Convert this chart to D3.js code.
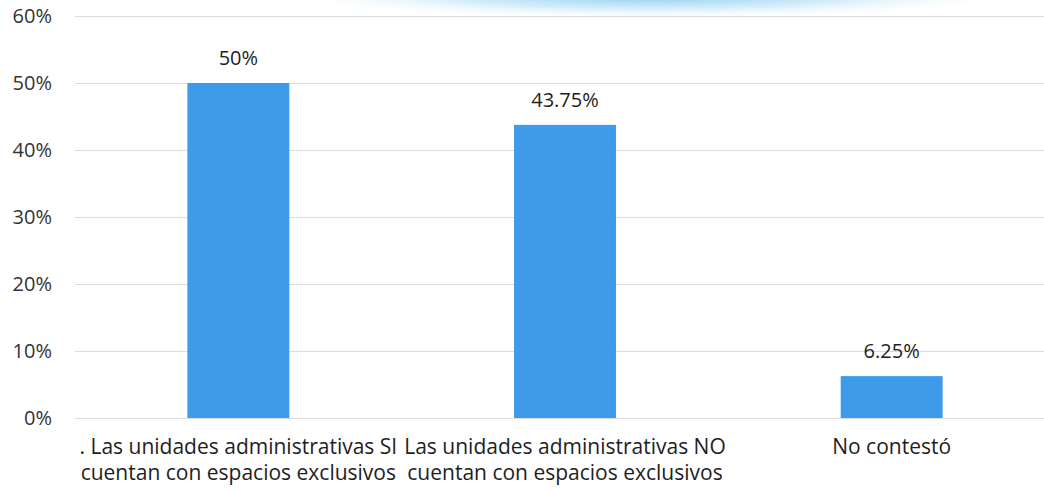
<!DOCTYPE html>
<html>
<head>
<meta charset="utf-8">
<script src="https://cdn.jsdelivr.net/npm/d3@7"></script>
<style>
body{margin:0;background:#fff;}
svg{display:block;}
</style>
</head>
<body>
<svg id="chart"></svg>
<script>
var categories=[
  [". Las unidades administrativas SI","cuentan con espacios exclusivos"],
  ["Las unidades administrativas NO","cuentan con espacios exclusivos"],
  ["No contestó"]
];
var values=[50,43.75,6.25];
var valueLabels=["50%","43.75%","6.25%"];
var yTicks=[0,10,20,30,40,50,60];

var width=1044;
var height=489;
var margin={top:16,right:-11,bottom:71,left:75};

var svg=d3.select("#chart")
.attr("width",width)
.attr("height",height)

// faint swoosh at the top of the scanned page
var defs=svg.append("defs");
var grad=defs.append("radialGradient").attr("id","sw")
grad.append("stop").attr("offset","0%").attr("stop-color","#6cc0ec").attr("stop-opacity",0.9)
grad.append("stop").attr("offset","55%").attr("stop-color","#b5e0f6").attr("stop-opacity",0.6)
grad.append("stop").attr("offset","100%").attr("stop-color","#ffffff").attr("stop-opacity",0)
svg.append("ellipse")
.attr("cx",650).attr("cy",-6)
.attr("rx",380).attr("ry",26)
.attr("fill","url(#sw)")

var x=d3.scaleBand()
.domain(d3.range(categories.length))
.range([margin.left,width-margin.right])
.paddingInner(0.688)
.paddingOuter(0.344)

var y=d3.scaleLinear()
.domain([0,60])
.range([height-margin.bottom,margin.top])

// gridlines
svg.selectAll("line.grid")
.data(yTicks)
.enter()
.append("line")
.attr("class","grid")
.attr("x1",margin.left)
.attr("x2",width)
.attr("y1",function(d){return y(d)+0.5;})
.attr("y2",function(d){return y(d)+0.5;})
.attr("stroke","#dcdcdc")
.attr("stroke-width",1)

// y tick labels
svg.selectAll("text.ytick")
.data(yTicks)
.enter()
.append("text")
.attr("class","ytick")
.attr("x",52)
.attr("y",function(d){return y(d);})
.attr("dy","0.36em")
.attr("text-anchor","end")
.attr("font-family","Open Sans, sans-serif")
.attr("font-size",20)
.attr("fill","#333333")
.text(function(d){return d+"%";})

// bars
svg.selectAll("rect.bar")
.data(values)
.enter()
.append("rect")
.attr("class","bar")
.attr("x",function(d,i){return x(i);})
.attr("y",function(d){return y(d);})
.attr("width",x.bandwidth())
.attr("height",function(d){return y(0)-y(d);})
.attr("fill","#3d9be9")

// value labels
svg.selectAll("text.val")
.data(values)
.enter()
.append("text")
.attr("class","val")
.attr("x",function(d,i){return x(i)+x.bandwidth()/2;})
.attr("y",function(d){return y(d)-18;})
.attr("text-anchor","middle")
.attr("font-family","Open Sans, sans-serif")
.attr("font-size",20)
.attr("fill","#1e1e1e")
.text(function(d,i){return valueLabels[i];})

// category labels
var cat=svg.selectAll("text.cat")
.data(categories)
.enter()
.append("text")
.attr("class","cat")
.attr("x",function(d,i){return x(i)+x.bandwidth()/2;})
.attr("y",y(0)+36)
.attr("text-anchor","middle")
.attr("font-family","Open Sans, sans-serif")
.attr("font-size",21)
.attr("fill","#1e1e1e")
cat.selectAll("tspan")
.data(function(d){return d;})
.enter()
.append("tspan")
.attr("x",function(){return d3.select(this.parentNode).attr("x");})
.attr("dy",function(d,i){return i==0?0:26;})
.text(function(d){return d;})
</script>
</body>
</html>
